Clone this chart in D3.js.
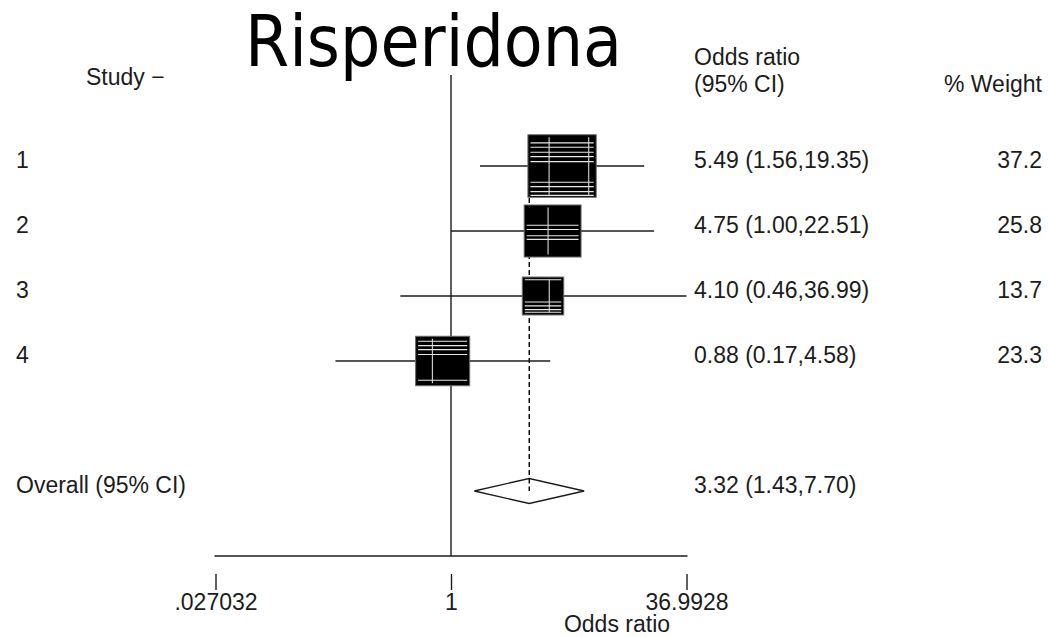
<!DOCTYPE html>
<html>
<head>
<meta charset="utf-8">
<script src="https://cdn.jsdelivr.net/npm/d3@7"></script>
<style>
  html, body { margin: 0; padding: 0; background: #fff; }
  svg { display: block; }
  .lbl { font-family: "Liberation Sans", Arial, sans-serif; font-size: 23px; fill: #1c1c1c; }
</style>
</head>
<body>
<svg id="chart" width="1048" height="637"></svg>
<script>
// Forest plot: risperidone studies, odds ratios on a log axis
const chartTitle = "Risperidona";
const studies = ["1", "2", "3", "4"];
const oddsRatios = [5.49, 4.75, 4.10, 0.88];
const ciLower = [1.56, 1.00, 0.46, 0.17];
const ciUpper = [19.35, 22.51, 36.99, 4.58];
const weights = [37.2, 25.8, 13.7, 23.3];
const overallLabel = "Overall (95% CI)";
const overallOR = 3.32;
const overallLower = 1.43;
const overallUpper = 7.70;
const axisTicks = [0.027032, 1, 36.9928];
const axisTickLabels = [".027032", "1", "36.9928"];
const axisTitle = "Odds ratio";

// White print streaks across the filled boxes (fractions of box height / width)
const boxStreaks = [
  { h: [0.13, 0.20, 0.28, 0.35, 0.43, 0.76, 0.83, 0.91, 0.97], v: [0.31, 0.89] },
  { h: [0.39, 0.47, 0.59, 0.66], v: [0.42] },
  { h: [0.07, 0.66, 0.76, 0.86, 0.93], v: [0.65] },
  { h: [0.10, 0.19, 0.27, 0.37, 0.89], v: [0.31] }
];

const svg = d3.select("#chart");
const ink = "#1c1c1c";

const x = d3.scaleLog().domain([axisTicks[0], axisTicks[2]]).range([215.5, 686.5]);
const y = d3.scaleLinear().domain([0, 5]).range([166, 491]);
const boxW = d3.scaleSqrt().domain([0, d3.max(weights)]).range([0, 68.3]);
const boxAspect = 0.915;
const axisY = 556;

const rows = studies.map((s, i) => ({
  study: s, or: oddsRatios[i], lo: ciLower[i], hi: ciUpper[i], w: weights[i], i
}));

// Title
svg.append("text")
  .attr("x", 245).attr("y", 66)
  .attr("textLength", 377).attr("lengthAdjust", "spacingAndGlyphs")
  .style("font-family", "'DejaVu Sans Condensed', 'DejaVu Sans', sans-serif")
  .style("font-size", "71px").style("fill", "#000")
  .text(chartTitle);

// Column headers
svg.append("text").attr("class", "lbl").attr("x", 86).attr("y", 85).text("Study \u2212");
svg.append("text").attr("class", "lbl").attr("x", 694).attr("y", 65).text("Odds ratio");
svg.append("text").attr("class", "lbl").attr("x", 694).attr("y", 92).text("(95% CI)");
svg.append("text").attr("class", "lbl").attr("x", 1042).attr("y", 92)
  .attr("text-anchor", "end").text("% Weight");

// Line of no effect
svg.append("line")
  .attr("x1", x(1)).attr("x2", x(1))
  .attr("y1", 75).attr("y2", axisY)
  .attr("stroke", ink).attr("stroke-width", 1.4);

// Dashed line at the pooled estimate
svg.append("line")
  .attr("x1", x(overallOR)).attr("x2", x(overallOR))
  .attr("y1", y(0)).attr("y2", y(5))
  .attr("stroke", "#000").attr("stroke-width", 1.4)
  .attr("stroke-dasharray", "5,3");

// Confidence interval lines
svg.append("g").selectAll("line").data(rows).join("line")
  .attr("x1", d => x(d.lo)).attr("x2", d => x(d.hi))
  .attr("y1", d => y(d.i)).attr("y2", d => y(d.i))
  .attr("stroke", ink).attr("stroke-width", 1.4);

// Weighted boxes
const boxes = svg.append("g").selectAll("g").data(rows).join("g")
  .attr("transform", d => {
    const w = boxW(d.w), h = w * boxAspect;
    return `translate(${x(d.or) - w / 2},${y(d.i) - h / 2})`;
  });

boxes.append("rect")
  .attr("width", d => boxW(d.w))
  .attr("height", d => boxW(d.w) * boxAspect)
  .attr("fill", "#000").attr("stroke", "#6a6a6a").attr("stroke-width", 1);

boxes.each(function (d) {
  const g = d3.select(this);
  const w = boxW(d.w), h = w * boxAspect;
  const st = boxStreaks[d.i];
  g.selectAll("line.h").data(st.h).join("line").attr("class", "h")
    .attr("x1", 2.5).attr("x2", w - 2.5)
    .attr("y1", f => f * h).attr("y2", f => f * h)
    .attr("stroke", "#e8e8e8").attr("stroke-width", 1.1);
  g.selectAll("line.v").data(st.v).join("line").attr("class", "v")
    .attr("x1", f => f * w).attr("x2", f => f * w)
    .attr("y1", 2.5).attr("y2", h - 2.5)
    .attr("stroke", "#d8d8d8").attr("stroke-width", 1.1);
});

// Pooled diamond
const dy = 12.5;
svg.append("path")
  .attr("d", d3.line()([
    [x(overallLower), y(5)],
    [x(overallOR), y(5) - dy],
    [x(overallUpper), y(5)],
    [x(overallOR), y(5) + dy],
    [x(overallLower), y(5)]
  ]))
  .attr("fill", "#fff").attr("stroke", ink).attr("stroke-width", 1.4);

// Dashed line is visible inside the diamond's upper half
svg.append("line")
  .attr("x1", x(overallOR)).attr("x2", x(overallOR))
  .attr("y1", y(5) - dy).attr("y2", y(5))
  .attr("stroke", "#000").attr("stroke-width", 1.4)
  .attr("stroke-dasharray", "5,3");

// Row labels and statistics
const f2 = d3.format(".2f"), f1 = d3.format(".1f");
svg.append("g").selectAll("text").data(rows).join("text")
  .attr("class", "lbl").attr("x", 16).attr("y", d => y(d.i) + 2)
  .text(d => d.study);
svg.append("g").selectAll("text").data(rows).join("text")
  .attr("class", "lbl").attr("x", 694).attr("y", d => y(d.i) + 2)
  .text(d => `${f2(d.or)} (${f2(d.lo)},${f2(d.hi)})`);
svg.append("g").selectAll("text").data(rows).join("text")
  .attr("class", "lbl").attr("x", 1042).attr("y", d => y(d.i) + 2)
  .attr("text-anchor", "end")
  .text(d => f1(d.w));

svg.append("text").attr("class", "lbl").attr("x", 16).attr("y", y(5) + 2).text(overallLabel);
svg.append("text").attr("class", "lbl").attr("x", 694).attr("y", y(5) + 2)
  .text(`${f2(overallOR)} (${f2(overallLower)},${f2(overallUpper)})`);

// Horizontal axis line
svg.append("line")
  .attr("x1", x.range()[0] - 1).attr("x2", x.range()[1] + 1)
  .attr("y1", axisY).attr("y2", axisY)
  .attr("stroke", ink).attr("stroke-width", 1.4);

// Detached ticks and labels
const axis = d3.axisBottom(x)
  .tickValues(axisTicks)
  .tickFormat((d, i) => axisTickLabels[i])
  .tickSizeInner(16).tickSizeOuter(0).tickPadding(4);
const ag = svg.append("g").attr("transform", `translate(0,574)`).call(axis);
ag.select(".domain").remove();
ag.selectAll(".tick line").attr("stroke", ink).attr("stroke-width", 1.4);
ag.selectAll(".tick text")
  .attr("class", "lbl").attr("fill", "#1c1c1c")
  .style("font-family", "'Liberation Sans', Arial, sans-serif")
  .style("font-size", "23px");

svg.append("text").attr("class", "lbl")
  .attr("x", 617).attr("y", 632).attr("text-anchor", "middle")
  .text(axisTitle);
</script>
</body>
</html>
